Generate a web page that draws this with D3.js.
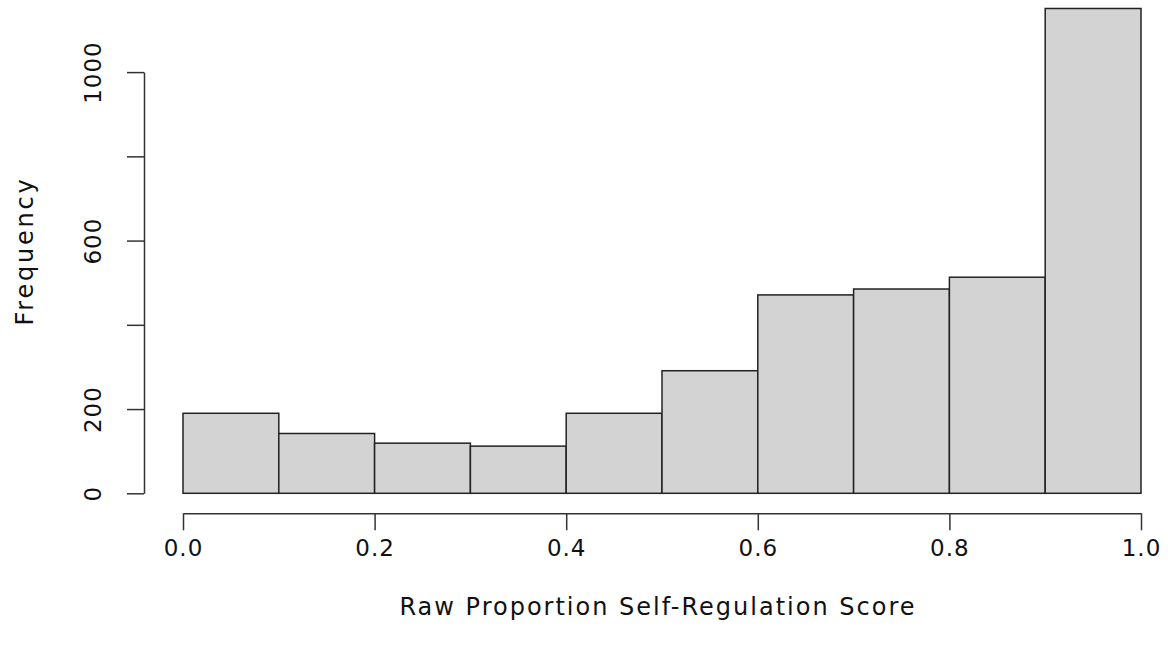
<!DOCTYPE html>
<html>
<head>
<meta charset="utf-8">
<script src="https://cdn.jsdelivr.net/npm/d3@7"></script>
<style>
  body { margin: 0; background: #fff; }
  svg { display: block; font-family: "DejaVu Sans", sans-serif; }
</style>
</head>
<body>
<div id="chart"></div>
<script>
// histogram bins (left edges) and counts
var binStarts = [0.0, 0.1, 0.2, 0.3, 0.4, 0.5, 0.6, 0.7, 0.8, 0.9];
var binWidth = 0.1;
var counts = [190, 142, 119, 112, 190, 291, 471, 485, 513, 1151];

var xTicks = [0, 0.2, 0.4, 0.6, 0.8, 1.0];
var xTickLabels = ["0.0", "0.2", "0.4", "0.6", "0.8", "1.0"];
var yTicks = [0, 200, 400, 600, 800, 1000];
var yTickLabels = ["0", "200", "", "600", "", "1000"]; // R drops the ones that overlap

var xTitle = "Raw Proportion Self-Regulation Score";
var yTitle = "Frequency";

const width = 1168, height = 656;

const svg = d3.select("#chart").append("svg")
  .attr("width", width)
  .attr("height", height);

const x = d3.scaleLinear().domain([0, 1]).range([183, 1141]);
const y = d3.scaleLinear().domain([0, 1000]).range([493.3, 72.1]);

// bars
svg.append("g")
  .selectAll("rect")
  .data(binStarts)
  .join("rect")
  .attr("x", d => x(d))
  .attr("y", (d, i) => y(counts[i]))
  .attr("width", d => x(d + binWidth) - x(d))
  .attr("height", (d, i) => y(0) - y(counts[i]))
  .attr("fill", "#d3d3d3")
  .attr("stroke", "#222")
  .attr("stroke-width", 1.5);

// y axis
const yAxis = svg.append("g")
  .attr("transform", "translate(144,0)")
  .call(d3.axisLeft(y).tickValues(yTicks).tickSize(17).tickSizeOuter(0)
    .tickFormat((d, i) => yTickLabels[i]));
yAxis.selectAll(".tick text")
  .attr("transform", "rotate(-90)")
  .attr("x", 0)
  .attr("y", -51)
  .attr("dy", "0.35em")
  .attr("text-anchor", "middle");

// x axis
const xAxis = svg.append("g")
  .attr("transform", "translate(0,513.3)")
  .call(d3.axisBottom(x).tickValues(xTicks).tickSize(17).tickSizeOuter(0)
    .tickFormat((d, i) => xTickLabels[i]));
xAxis.selectAll(".tick text").attr("y", 35).attr("dy", "0.35em");

svg.selectAll(".domain, .tick line")
  .attr("stroke", "#333")
  .attr("stroke-width", 1.5);
svg.selectAll(".tick text")
  .attr("fill", "#111")
  .style("font-family", "'DejaVu Sans', sans-serif")
  .style("font-size", "23px")
  .style("letter-spacing", "1px");

// titles
svg.append("text")
  .attr("x", 658)
  .attr("y", 607)
  .attr("dy", "0.35em")
  .attr("text-anchor", "middle")
  .attr("fill", "#111")
  .style("font-size", "24px")
  .style("letter-spacing", "2px")
  .text(xTitle);

svg.append("text")
  .attr("transform", "translate(25,251) rotate(-90)")
  .attr("dy", "0.35em")
  .attr("text-anchor", "middle")
  .attr("fill", "#111")
  .style("font-size", "24px")
  .style("letter-spacing", "2.8px")
  .text(yTitle);
</script>
</body>
</html>
